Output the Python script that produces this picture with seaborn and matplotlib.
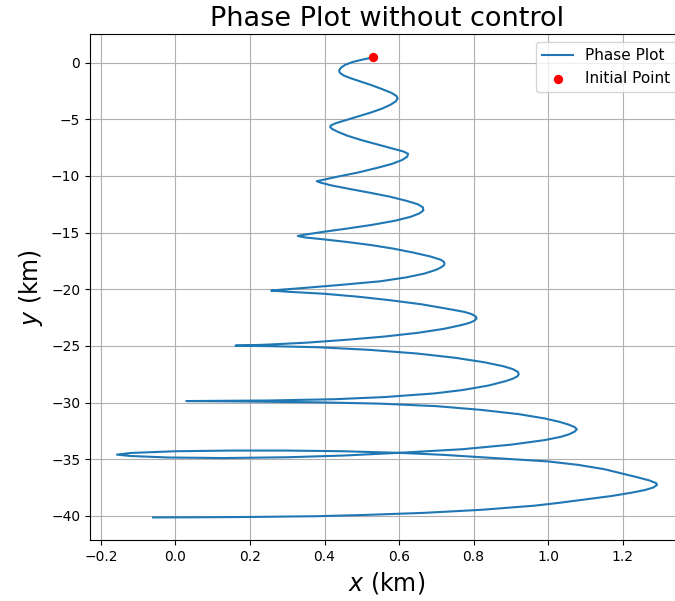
import matplotlib
matplotlib.use("Agg")
import matplotlib.pyplot as plt
import seaborn as sns
import pandas as pd

# Trajectory points read (and estimated) from the reference picture, in km
x_km = [
    0.529, 0.500, 0.475, 0.455, 0.444, 0.439, 0.441, 0.452, 0.470, 0.495,
    0.525, 0.555, 0.580, 0.593, 0.596, 0.591, 0.577, 0.555, 0.525, 0.490,
    0.455, 0.430, 0.417, 0.415, 0.420, 0.435, 0.461, 0.500, 0.545, 0.585,
    0.612, 0.624, 0.622, 0.608, 0.580, 0.540, 0.490, 0.430, 0.395, 0.379,
    0.390, 0.420, 0.470, 0.524, 0.575, 0.620, 0.650, 0.664, 0.665, 0.655,
    0.632, 0.590, 0.524, 0.460, 0.398, 0.350, 0.328, 0.345, 0.398, 0.460,
    0.524, 0.585, 0.640, 0.685, 0.712, 0.720, 0.722, 0.720, 0.712, 0.700,
    0.668, 0.620, 0.550, 0.443, 0.340, 0.280, 0.257, 0.300, 0.398, 0.490,
    0.578, 0.660, 0.730, 0.775, 0.795, 0.806, 0.808, 0.802, 0.788, 0.765,
    0.720, 0.650, 0.560, 0.460, 0.350, 0.240, 0.161, 0.260, 0.381, 0.520,
    0.650, 0.750, 0.829, 0.880, 0.905, 0.919, 0.921, 0.918, 0.905, 0.885,
    0.840, 0.770, 0.694, 0.560, 0.425, 0.250, 0.100, 0.029, 0.150, 0.381,
    0.550, 0.700, 0.820, 0.920, 0.990, 1.030, 1.055, 1.070, 1.077, 1.072,
    1.058, 1.035, 0.990, 0.900, 0.770, 0.600, 0.450, 0.300, 0.130, -0.020,
    -0.120, -0.157, -0.120, 0.000, 0.150, 0.300, 0.450, 0.600, 0.720, 0.807,
    0.920, 1.000, 1.080, 1.150, 1.200, 1.240, 1.272, 1.290, 1.292, 1.282,
    1.260, 1.225, 1.170, 1.100, 1.030, 0.964, 0.820, 0.665, 0.500, 0.383,
    0.200, 0.050, -0.060]
y_km = [
    0.45, 0.25, 0.05, -0.20, -0.45, -0.70, -0.90, -1.15, -1.38, -1.65,
    -1.98, -2.35, -2.68, -2.95, -3.17, -3.42, -3.72, -4.05, -4.40, -4.75,
    -5.10, -5.35, -5.55, -5.68, -5.85, -6.10, -6.45, -6.85, -7.25, -7.60,
    -7.85, -8.05, -8.30, -8.60, -8.95, -9.30, -9.70, -10.10, -10.35, -10.47,
    -10.60, -10.85, -11.17, -11.50, -11.83, -12.20, -12.50, -12.78, -13.05, -13.30,
    -13.60, -13.95, -14.34, -14.65, -14.93, -15.17, -15.30, -15.42, -15.60, -15.83,
    -16.10, -16.42, -16.78, -17.12, -17.40, -17.58, -17.74, -17.90, -18.08, -18.28,
    -18.62, -18.95, -19.30, -19.62, -19.90, -20.05, -20.12, -20.22, -20.40, -20.66,
    -20.98, -21.33, -21.73, -22.00, -22.20, -22.42, -22.58, -22.78, -22.98, -23.18,
    -23.50, -23.85, -24.18, -24.46, -24.72, -24.90, -24.98, -25.03, -25.12, -25.35,
    -25.68, -26.05, -26.45, -26.80, -27.05, -27.30, -27.50, -27.68, -27.90, -28.12,
    -28.50, -28.90, -29.20, -29.52, -29.71, -29.82, -29.86, -29.87, -29.90, -29.98,
    -30.10, -30.32, -30.65, -31.02, -31.40, -31.70, -31.95, -32.15, -32.35, -32.55,
    -32.78, -33.02, -33.32, -33.72, -34.12, -34.44, -34.68, -34.83, -34.90, -34.85,
    -34.72, -34.60, -34.45, -34.30, -34.24, -34.24, -34.30, -34.44, -34.62, -34.80,
    -35.03, -35.20, -35.50, -35.88, -36.28, -36.60, -36.88, -37.12, -37.28, -37.50,
    -37.72, -37.95, -38.25, -38.55, -38.85, -39.10, -39.47, -39.74, -39.93, -40.03,
    -40.10, -40.13, -40.14]

init_x = [0.529]
init_y = [0.45]

title = "Phase Plot without control"
x_label = "$x$ (km)"
y_label = "$y$ (km)"
x_ticks = [-0.2, 0.0, 0.2, 0.4, 0.6, 0.8, 1.0, 1.2]
y_ticks = [0, -5, -10, -15, -20, -25, -30, -35, -40]

traj = pd.DataFrame({"x": x_km, "y": y_km})
init = pd.DataFrame({"x": init_x, "y": init_y})

fig = plt.figure(figsize=(6.75, 6.01), dpi=100)
ax = fig.add_axes([0.1333, 0.1008, 0.88, 0.8418])

sns.lineplot(data=traj, x="x", y="y", sort=False, estimator=None,
             color="#1f77b4", linewidth=1.5, label="Phase Plot", ax=ax)
sns.scatterplot(data=init, x="x", y="y", color="red", s=45, linewidth=0,
                label="Initial Point", ax=ax, zorder=3)

ax.set_xticks(x_ticks)
ax.set_yticks(y_ticks)
ax.grid(True)
ax.set_title(title, fontsize=19.5)
ax.set_xlabel(x_label, fontsize=17)
ax.set_ylabel(y_label, fontsize=17)
ax.legend(loc="upper right", fontsize=11)

fig.savefig("out.png", dpi=100)
